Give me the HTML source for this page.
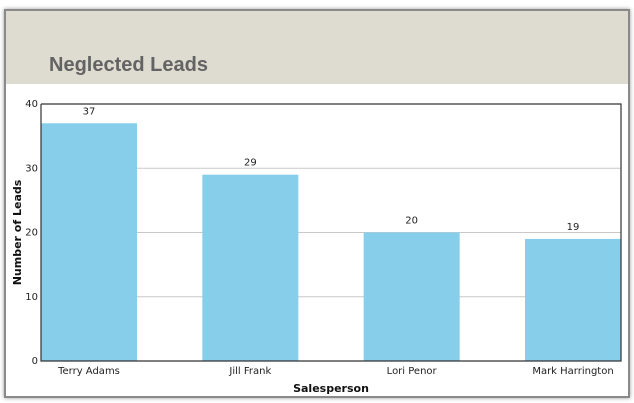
<!DOCTYPE html>
<html><head><meta charset="utf-8"><style>
body{margin:0;width:634px;height:403px;background:#fff;overflow:hidden;font-family:"DejaVu Sans","Liberation Sans",sans-serif}
#frame{position:absolute;left:4px;top:9px;width:622px;height:385px;border:2px solid #8a8a8a;box-shadow:0 0 4px #999;background:#fff}
#hdr{position:absolute;left:0;top:0;width:622px;height:73px;background:#dedcd0}
#title{position:absolute;left:43px;top:43px;font-size:20px;font-weight:bold;color:#636363;font-family:"Liberation Sans",sans-serif}
</style></head><body>
<div id="frame">
<div id="hdr"><div id="title">Neglected Leads</div></div>
</div>
<svg id="c" width="634" height="403" style="position:absolute;left:0;top:0"></svg>
<script>
const categories=["Terry Adams","Jill Frank","Lori Penor","Mark Harrington"];
const values=[37,29,20,19];
const ticks=[0,10,20,30,40];
const svg=document.getElementById('c');
const NS='http://www.w3.org/2000/svg';
const L=41,R=621,T=104,B=361,BW=96,MAX=40;
const y=v=>B-(v/MAX)*(B-T);
const x=i=>L+i*(R-L-BW)/(categories.length-1);
function mk(t,a,txt){const e=document.createElementNS(NS,t);for(const k in a)e.setAttribute(k,a[k]);if(txt!=null)e.textContent=txt;svg.appendChild(e);return e;}
ticks.forEach(t=>{
 if(t>0&&t<MAX){const g=mk('line',{x1:L,x2:R,y1:y(t),y2:y(t),stroke:'#c8c8c8','stroke-width':1});
 
 }
 const tl=mk('text',{x:L-3,y:y(t)+3,'text-anchor':'end','font-size':10,fill:'#222','font-family':'DejaVu Sans, sans-serif'},t);
 
 
});
values.forEach((v,i)=>{
 const b=mk('rect',{x:x(i),y:y(v),width:BW,height:B-y(v),fill:'#87ceea'});
 
 
 const vl=mk('text',{x:x(i)+BW/2,y:y(v)-9,'text-anchor':'middle','font-size':10,fill:'#222','font-family':'DejaVu Sans, sans-serif'},v);
 
 
 const cl=mk('text',{x:x(i)+BW/2,y:B+13,'text-anchor':'middle','font-size':10,fill:'#222','font-family':'DejaVu Sans, sans-serif'},categories[i]);
 
 
});
const ax=mk('path',{d:`M${L} ${T}V${B}H${R}V${T}H${L}`,fill:'none',stroke:'#333','stroke-width':1.2});


const xt=mk('text',{x:(L+R)/2,y:392,'text-anchor':'middle','font-size':11,'font-weight':'bold',fill:'#111','font-family':'DejaVu Sans, sans-serif'},'Salesperson');


const yt=mk('text',{x:0,y:0,transform:`translate(21,${(T+B)/2}) rotate(-90)`,'text-anchor':'middle','font-size':11,'font-weight':'bold',fill:'#111','font-family':'DejaVu Sans, sans-serif'},'Number of Leads');


</script>
</body></html>
